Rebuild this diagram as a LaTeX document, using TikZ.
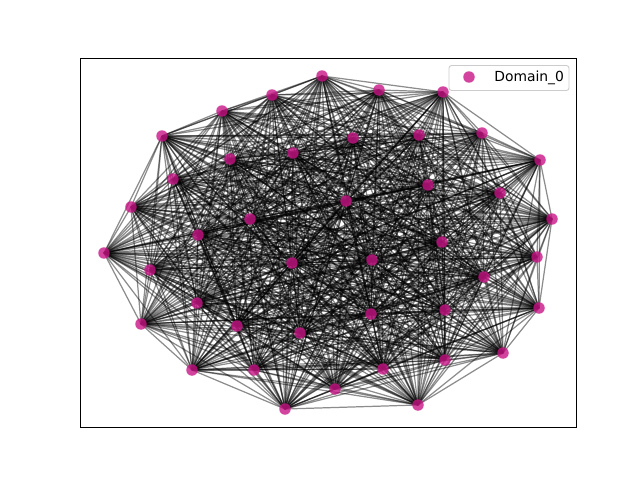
\documentclass[tikz,border=0pt]{standalone}
\usepackage{fontspec}
\setmainfont{DejaVu Sans}
\usetikzlibrary{backgrounds}
\definecolor{domain}{HTML}{C71585}
\tikzset{
	dom/.style={circle, fill=domain, fill opacity=.8, inner sep=0pt, minimum size=2.3mm},
	edge/.style={black, opacity=.45, line width=.7pt},
	legendbox/.style={draw=black!20, fill=white, fill opacity=.8, text opacity=1, rounded corners=1.5pt, line width=.5pt}
}

\begin{document}
\begin{tikzpicture}[x=0.02cm, y=-0.02cm]

	\useasboundingbox (0,0) rectangle (640,480);
	\draw[line width=.5pt] (80,58) rectangle (576,427);

	\foreach \x/\y [count=\k] in {
		322/76, 379/90, 443/92, 272/95, 222/111, 482/133, 162/136, 419/135,
		353/138, 293/153, 230/159, 540/160, 173/179, 428/185, 500/193, 346/201,
		131/207, 552/219, 250/219, 198/235, 442/242, 104/253, 537/257, 372/260,
		292/263, 150/270, 484/277, 197/303, 539/308, 445/310, 371/314, 141/324,
		237/326, 300/333, 503/353, 445/360, 192/370, 254/370, 383/369, 335/389,
		285/409, 418/405}
		\node[dom] (n\k) at (\x,\y) {};

	\begin{pgfonlayer}{background}
		\foreach \i in {1,...,41} {
			\pgfmathtruncatemacro\next{\i+1}
			\foreach \j in {\next,...,42}
				\draw[edge] (n\i.center) -- (n\j.center);
		}
	\end{pgfonlayer}

	\node[legendbox, minimum width=120*0.02cm, minimum height=25*0.02cm] (legend) at (509,78) {};
	\node[dom] (key) at (469,77) {};
	\node[font=\fontsize{7.9}{9}\selectfont, anchor=west, inner sep=0pt] (keytext) at (494,77.5) {Domain\_0};

\end{tikzpicture}
\end{document}
